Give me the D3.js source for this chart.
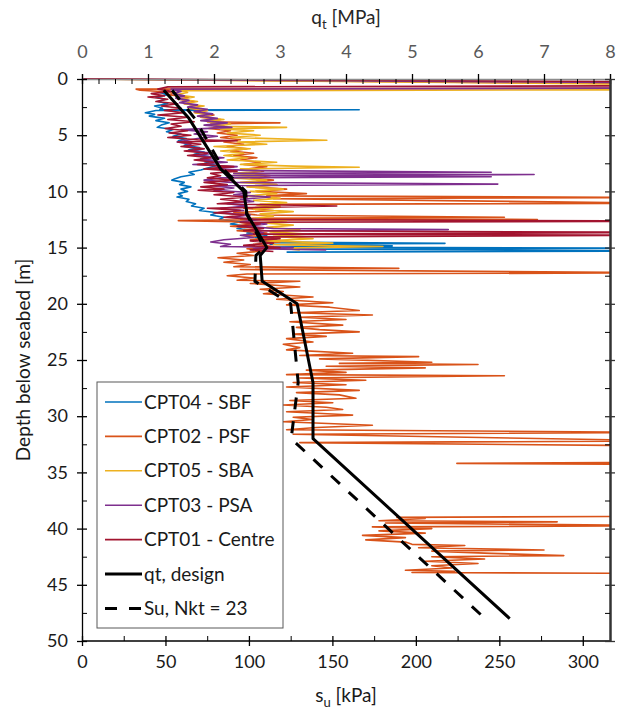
<!DOCTYPE html>
<html>
<head>
<meta charset="utf-8">
<script src="https://cdn.jsdelivr.net/npm/d3@7/dist/d3.min.js"></script>
<style>
  body { margin: 0; background: #fff; }
  text { font-family: Lato, "Open Sans", sans-serif; }
</style>
</head>
<body>
<div id="chart"></div>
<script>
// tick values
const qtTicks = [0, 1, 2, 3, 4, 5, 6, 7, 8];
const suTicks = [0, 50, 100, 150, 200, 250, 300];
const depthTicks = [0, 5, 10, 15, 20, 25, 30, 35, 40, 45, 50];

// legend
const seriesNames = ["CPT04 - SBF", "CPT02 - PSF", "CPT05 - SBA", "CPT03 - PSA", "CPT01 - Centre"];
const seriesColors = ["#0072BD", "#D95319", "#EDB120", "#7E2F8E", "#A2142F"];

// CPT traces, [depth m, qt MPa] (values above 8 run off the chart)
const cpt04 = [[1.0,1.32],[1.2,1.18],[1.4,1.30],[1.6,1.12],[1.8,1.26],[2.0,1.15],[2.2,1.30],[2.4,1.10],[2.6,1.22],[2.72,1.18],[2.74,4.2],[2.8,1.12],[3.0,0.96],[3.15,1.10],[3.3,1.02],[3.5,1.25],[3.7,1.12],[3.9,1.32],[4.1,1.20],[4.3,1.14],[4.5,1.38],[4.7,1.28],[4.9,1.50],[5.1,1.38],[5.3,1.58],[5.5,1.46],[5.7,1.66],[5.9,1.55],[6.1,1.78],[6.3,1.62],[6.5,1.85],[6.7,1.70],[6.9,1.92],[7.1,1.80],[7.3,1.98],[7.5,1.86],[7.7,2.05],[7.9,1.92],[8.1,1.80],[8.3,1.62],[8.5,1.70],[8.7,1.50],[8.9,1.40],[9.0,1.36],[9.2,1.55],[9.4,1.48],[9.6,1.65],[9.8,1.50],[10.0,1.60],[10.2,1.46],[10.4,1.52],[10.5,1.44],[10.7,1.62],[10.9,1.58],[11.1,1.72],[11.3,1.66],[11.5,1.85],[11.7,1.78],[11.9,2.05],[12.1,1.95],[12.3,2.15],[12.5,2.08],[12.7,2.40],[12.9,2.25],[13.1,2.50],[13.3,2.35],[13.5,2.65],[13.7,2.50],[13.9,2.80],[14.1,2.62],[14.3,2.95],[14.5,2.75],[14.62,5.5],[14.7,2.85],[14.85,4.7],[14.95,2.9],[15.05,9],[15.12,3.0],[15.3,9],[15.4,3.1]];

const cpt02 = [[0,0.02],[0.45,9],[0.8,9],[0.9,0.82],[1.0,0.88],[1.2,1.45],[1.4,1.30],[1.6,1.62],[1.8,1.45],[2.0,1.70],[2.2,1.55],[2.4,1.80],[2.6,1.62],[2.8,1.90],[3.0,1.72],[3.2,2.00],[3.4,1.80],[3.6,2.10],[3.8,1.90],[3.9,3.0],[4.0,1.95],[4.2,2.15],[4.4,1.92],[4.6,2.25],[4.8,2.05],[5.0,2.35],[5.2,2.10],[5.4,2.40],[5.6,2.15],[5.8,2.45],[6.0,2.20],[6.2,2.50],[6.4,2.25],[6.6,2.60],[6.8,2.30],[7.0,2.65],[7.2,2.40],[7.4,2.70],[7.6,2.45],[7.8,2.80],[8.0,2.50],[8.2,2.75],[8.4,2.45],[8.6,2.85],[8.8,2.55],[9.0,2.90],[9.2,2.60],[9.4,2.95],[9.6,2.55],[9.8,3.10],[10.0,2.65],[10.2,3.40],[10.4,2.80],[10.55,9],[10.65,2.9],[11.05,9],[11.15,2.7],[11.3,3.0],[11.5,2.45],[11.7,2.90],[11.9,2.30],[12.1,2.65],[12.3,6.4],[12.4,2.4],[12.5,6.9],[12.55,2.2],[12.6,1.46],[12.7,2.3],[12.9,2.60],[13.1,2.25],[13.3,2.70],[13.5,2.35],[13.7,2.80],[13.9,2.45],[14.1,2.90],[14.3,2.55],[14.5,3.0],[14.7,2.60],[14.9,2.90],[15.1,2.50],[15.3,2.75],[15.5,2.35],[15.7,2.60],[15.9,2.06],[16.1,2.45],[16.3,2.15],[16.5,2.55],[16.7,2.30],[16.85,4.8],[16.95,2.4],[17.25,9],[17.35,2.5],[17.5,2.20],[17.7,2.60],[17.9,2.35],[18.0,3.3],[18.2,2.55],[18.5,3.3],[18.7,2.70],[18.9,3.05],[19.1,2.75],[19.4,3.50],[19.6,2.95],[19.9,3.80],[20.1,3.10],[20.3,3.75],[20.6,4.20],[20.8,3.20],[21.0,4.40],[21.2,3.30],[21.4,4.00],[21.6,3.15],[21.9,3.95],[22.1,3.25],[22.3,3.60],[22.5,4.20],[22.7,3.20],[22.9,3.70],[23.1,3.10],[23.4,3.50],[23.6,3.05],[23.9,3.30],[24.1,3.10],[24.4,4.10],[24.6,3.30],[24.7,5.10],[24.9,3.60],[25.2,5.30],[25.3,3.90],[25.4,6.0],[25.55,3.70],[25.7,5.20],[25.9,3.40],[26.1,4.00],[26.3,3.10],[26.4,6.40],[26.6,3.30],[26.8,4.30],[27.0,3.20],[27.2,4.00],[27.4,3.10],[27.7,4.20],[27.9,3.25],[28.1,3.90],[28.4,4.15],[28.6,3.15],[28.8,3.80],[29.0,3.05],[29.2,3.70],[29.4,3.95],[29.6,3.10],[29.9,4.10],[30.1,3.20],[30.3,3.50],[30.5,3.05],[30.8,4.40],[31.0,3.55],[31.2,3.10],[31.45,9],[31.6,3.20],[32.2,9],[32.35,3.3],[32.65,9],[34.1,9],[34.2,5.68],[34.3,9],[38.9,9],[39.0,4.77],[39.1,5.2],[39.3,4.5],[39.4,7.2],[39.5,4.6],[39.75,9],[39.85,4.4],[40.0,5.3],[40.2,4.5],[40.4,5.2],[40.6,4.25],[40.8,4.9],[41.0,4.3],[41.2,4.9],[41.4,5.0],[41.5,5.8],[41.7,5.1],[41.9,7.0],[42.0,5.3],[42.2,6.2],[42.4,7.3],[42.5,5.3],[42.7,6.1],[42.9,5.2],[43.1,6.0],[43.3,5.3],[43.5,5.6],[43.7,4.9],[43.8,5.65],[43.9,5.0],[44.0,9]];

const cpt05 = [[0,0.02],[0.5,9],[0.95,9],[1.05,1.45],[1.2,1.60],[1.4,1.42],[1.6,1.70],[1.8,1.50],[2.0,1.75],[2.2,1.55],[2.4,1.85],[2.6,1.62],[2.8,1.90],[3.0,1.70],[3.2,1.95],[3.4,1.80],[3.6,2.15],[3.8,1.90],[4.0,2.25],[4.2,2.00],[4.3,3.1],[4.45,2.10],[4.6,2.60],[4.8,2.20],[5.0,2.70],[5.2,2.25],[5.45,3.71],[5.6,2.35],[5.8,2.80],[6.0,2.00],[6.2,2.55],[6.4,2.10],[6.6,2.45],[6.8,2.15],[7.0,2.50],[7.2,2.20],[7.4,2.95],[7.6,2.40],[7.75,3.20],[7.85,4.2],[8.0,2.40],[8.2,2.70],[8.4,2.30],[8.6,2.75],[8.8,2.28],[9.0,2.80],[9.2,2.40],[9.4,2.95],[9.6,2.50],[9.8,3.05],[10.0,2.55],[10.2,2.95],[10.4,2.50],[10.6,3.00],[10.8,2.60],[11.0,3.10],[11.2,2.65],[11.4,3.00],[11.6,2.60],[11.8,3.20],[12.0,2.70],[12.2,2.90],[12.4,2.60],[12.6,3.10],[12.8,2.75],[13.0,3.20],[13.2,2.80],[13.4,3.30],[13.6,2.85],[13.8,3.40],[14.0,2.90],[14.2,3.50],[14.4,2.80],[14.6,3.80],[14.75,2.9],[14.9,4.56],[15.05,3.0],[15.2,3.30]];

const cpt03 = [[0,0.02],[0.35,9],[0.8,9],[0.9,1.35],[1.1,1.50],[1.3,1.38],[1.5,1.55],[1.7,1.42],[1.9,1.62],[2.1,1.48],[2.3,1.75],[2.5,1.60],[2.7,1.90],[2.9,1.70],[3.1,1.98],[3.3,1.75],[3.5,2.05],[3.7,1.80],[3.9,2.20],[4.1,1.85],[4.3,2.27],[4.5,1.50],[4.7,1.90],[4.9,1.70],[5.1,2.05],[5.3,1.75],[5.6,1.44],[5.8,1.65],[6.0,1.55],[6.2,1.85],[6.4,1.65],[6.6,2.00],[6.8,1.72],[7.0,2.15],[7.2,1.80],[7.4,2.20],[7.6,1.68],[7.8,2.35],[8.0,1.95],[8.15,2.6],[8.3,6.2],[8.4,2.3],[8.5,6.85],[8.6,2.2],[8.7,6.2],[8.8,2.1],[9.0,1.85],[9.2,2.25],[9.35,6.3],[9.5,1.95],[9.7,2.30],[9.9,2.00],[10.1,2.55],[10.3,2.30],[10.5,2.85],[10.7,2.40],[10.9,2.60],[11.1,2.20],[11.3,2.50],[11.5,2.10],[11.7,2.45],[11.9,2.05],[12.1,2.55],[12.3,2.25],[12.5,2.70],[12.7,2.40],[12.9,2.80],[13.1,2.50],[13.3,2.90],[13.4,5.55],[13.5,2.6],[13.7,2.75],[13.9,2.40],[14.1,2.60],[14.3,2.15],[14.5,1.95],[14.7,2.25],[14.9,2.10],[15.0,3.20],[15.1,2.60],[15.2,3.70]];

const cpt01 = [[0,0.02],[0.25,9],[0.6,9],[0.7,1.3],[0.9,1.15],[1.1,1.35],[1.3,1.05],[1.5,1.25],[1.6,1.00],[1.8,1.30],[2.0,1.12],[2.2,1.45],[2.4,1.20],[2.6,1.50],[2.8,1.25],[3.0,1.55],[3.2,1.15],[3.4,1.60],[3.6,1.30],[3.8,1.70],[4.0,1.35],[4.2,1.50],[4.4,1.26],[4.6,1.60],[4.8,1.32],[5.0,1.65],[5.2,1.30],[5.4,1.75],[5.5,2.35],[5.6,1.45],[5.8,1.80],[6.0,1.50],[6.2,1.85],[6.4,1.55],[6.6,1.90],[6.8,1.60],[7.0,1.95],[7.2,1.70],[7.4,2.00],[7.6,1.75],[7.8,2.30],[8.0,1.85],[8.2,2.35],[8.4,1.95],[8.6,2.10],[8.8,1.90],[9.0,2.30],[9.2,1.85],[9.4,2.20],[9.6,1.80],[9.8,2.15],[9.9,1.76],[10.1,2.30],[10.3,2.00],[10.5,2.50],[10.7,2.10],[10.9,2.45],[11.1,2.05],[11.3,3.86],[11.5,1.90],[11.7,2.40],[11.9,2.00],[12.1,2.45],[12.3,2.15],[12.5,2.60],[12.65,9],[12.75,2.40],[12.9,2.70],[13.1,2.35],[13.3,2.75],[13.5,2.45],[13.65,9],[13.8,2.6],[13.9,9],[14.05,2.7],[14.2,3.0],[14.4,2.55],[14.6,2.90],[14.8,2.45],[15.0,3.00],[15.2,2.55],[15.35,2.9]];

// design lines
const designDepth = [1, 3.5, 8, 10, 12, 15, 15.7, 18, 20, 27, 32, 48];
const designQt = [1.24, 1.62, 2.1, 2.45, 2.5, 2.8, 2.7, 2.73, 3.26, 3.5, 3.5, 6.48];
const suDepth = [1, 3.5, 8, 10, 12, 15, 15.7, 18, 20, 27, 32, 48];
const suKpa = [54, 67.5, 84.6, 98.1, 98.6, 109.1, 104.2, 103.6, 125, 129.5, 125.3, 241.4];

const traces = [cpt04, cpt02, cpt05, cpt03, cpt01];

const width = 628, height = 715;
const plotLeft = 82, plotRight = 610, plotTop = 79, plotBottom = 641;

const svg = d3.select("#chart")
    .append("svg")
    .attr("width", width)
    .attr("height", height);

const x = d3.scaleLinear().domain([0, 8]).range([plotLeft, plotRight]);
const xSu = d3.scaleLinear().domain([0, 316.3]).range([plotLeft, plotRight]);
const y = d3.scaleLinear().domain([0, 50]).range([plotTop, plotBottom]);

svg.append("clipPath").attr("id", "plotclip")
    .append("rect")
    .attr("x", plotLeft).attr("y", plotTop - 1)
    .attr("width", plotRight - plotLeft).attr("height", plotBottom - plotTop + 1);

const plot = svg.append("g").attr("clip-path", "url(#plotclip)");

const line = d3.line().x(d => x(d[1])).y(d => y(d[0]));

plot.selectAll(".cpt")
    .data(traces)
    .enter()
    .append("path")
    .attr("class", "cpt")
    .attr("d", d => line(d))
    .attr("fill", "none")
    .attr("stroke", (d, i) => seriesColors[i])
    .attr("stroke-width", 1.6)
    .attr("stroke-linejoin", "round");

plot.append("path")
    .attr("d", d3.line().x(d => xSu(d[1])).y(d => y(d[0]))(suDepth.map((d, i) => [d, suKpa[i]])))
    .attr("fill", "none")
    .attr("stroke", "#000")
    .attr("stroke-width", 3)
    .attr("stroke-dasharray", "12,12");

plot.append("path")
    .attr("d", line(designDepth.map((d, i) => [d, designQt[i]])))
    .attr("fill", "none")
    .attr("stroke", "#000")
    .attr("stroke-width", 3)
    .attr("stroke-linejoin", "round");

// axes
function minor(lo, hi, step) {
    const out = [];
    for (let v = lo; v <= hi + 1e-9; v += step) out.push(+v.toFixed(3));
    return out;
}

// top qt axis
const topAxis = svg.append("g").attr("transform", `translate(0,${plotTop})`)
    .call(d3.axisTop(x).tickValues(qtTicks).tickSize(5).tickPadding(16));
topAxis.select(".domain").attr("stroke", "#8c8c8c").attr("stroke-width", 1.3);
topAxis.selectAll(".tick line").attr("y1", 5).attr("stroke-width", 1.3);
topAxis.selectAll("text").style("font-size", "18px").attr("fill", "#595959").style("font-family", "Lato");
svg.append("g").attr("transform", `translate(0,${plotTop})`)
    .call(d3.axisTop(x).tickValues(minor(0, 8, 0.25)).tickSize(-5).tickFormat(""))
    .call(g => g.select(".domain").remove());

// bottom su axis
const botAxis = svg.append("g").attr("transform", `translate(0,${plotBottom})`)
    .call(d3.axisBottom(xSu).tickValues(suTicks).tickSize(5).tickPadding(9).tickSizeOuter(0));
botAxis.select(".domain").attr("stroke-width", 1.3).attr("d", `M${plotLeft},0H${plotRight}`);
botAxis.selectAll(".tick line").attr("y1", -5).attr("stroke-width", 1.3);
botAxis.selectAll("text").style("font-size", "18px").attr("fill", "#1a1a1a").style("font-family", "Lato");
svg.append("g").attr("transform", `translate(0,${plotBottom})`)
    .call(d3.axisBottom(xSu).tickValues(minor(25, 300, 50)).tickSize(-5).tickFormat(""))
    .call(g => g.select(".domain").remove());

// left depth axis
const leftAxis = svg.append("g").attr("transform", `translate(${plotLeft},0)`)
    .call(d3.axisLeft(y).tickValues(depthTicks).tickSize(5).tickPadding(9).tickSizeOuter(0));
leftAxis.select(".domain").attr("stroke-width", 1.3);
leftAxis.selectAll(".tick line").attr("x1", 5).attr("stroke-width", 1.3);
leftAxis.selectAll("text").style("font-size", "18px").attr("fill", "#1a1a1a").style("font-family", "Lato");
svg.append("g").attr("transform", `translate(${plotLeft},0)`)
    .call(d3.axisLeft(y).tickValues(minor(2.5, 47.5, 5)).tickSize(-5).tickFormat(""))
    .call(g => g.select(".domain").remove());

// right edge
const rightAxis = svg.append("g").attr("transform", `translate(${plotRight},0)`)
    .call(d3.axisRight(y).tickValues(depthTicks).tickSize(5).tickFormat("").tickSizeOuter(0));
rightAxis.select(".domain").attr("stroke", "#333").attr("stroke-width", 2.5);
rightAxis.selectAll(".tick line").attr("x1", -5).attr("stroke", "#333").attr("stroke-width", 1.3);
svg.append("g").attr("transform", `translate(${plotRight},0)`)
    .call(d3.axisRight(y).tickValues(minor(2.5, 47.5, 5)).tickSize(-5).tickFormat(""))
    .call(g => g.select(".domain").remove());

// axis titles
const tTop = svg.append("text")
    .attr("x", (plotLeft + plotRight) / 2).attr("y", 24)
    .attr("text-anchor", "middle")
    .style("font-size", "19px").attr("fill", "#262626");
tTop.append("tspan").text("q");
tTop.append("tspan").attr("dy", 5).style("font-size", "13px").text("t");
tTop.append("tspan").attr("dy", -5).text(" [MPa]");

const tBot = svg.append("text")
    .attr("x", (plotLeft + plotRight) / 2).attr("y", 702)
    .attr("text-anchor", "middle")
    .style("font-size", "19px").attr("fill", "#1a1a1a");
tBot.append("tspan").text("s");
tBot.append("tspan").attr("dy", 5).style("font-size", "13px").text("u");
tBot.append("tspan").attr("dy", -5).text(" [kPa]");

svg.append("text")
    .attr("transform", `translate(30,${(plotTop + plotBottom) / 2}) rotate(-90)`)
    .attr("text-anchor", "middle")
    .style("font-size", "19px").attr("fill", "#1a1a1a")
    .text("Depth below seabed [m]");

// legend
const legend = svg.append("g");
legend.append("rect")
    .attr("x", 97).attr("y", 382)
    .attr("width", 186).attr("height", 246)
    .attr("fill", "#fff").attr("stroke", "#595959").attr("stroke-width", 1);

const legendItems = seriesNames.map((n, i) => ({ name: n, color: seriesColors[i], w: 1.6, dash: null }))
    .concat([{ name: "qt, design", color: "#000", w: 3, dash: null },
             { name: "Su, Nkt = 23", color: "#000", w: 3, dash: "12,12" }]);

const rows = legend.selectAll(".row")
    .data(legendItems)
    .enter()
    .append("g")
    .attr("transform", (d, i) => `translate(0,${402 + i * 34.4})`);

rows.append("line")
    .attr("x1", 105).attr("x2", 142)
    .attr("stroke", d => d.color)
    .attr("stroke-width", d => d.w)
    .attr("stroke-dasharray", d => d.dash);

rows.append("text")
    .attr("x", 144).attr("y", 6.5)
    .style("font-size", "19px")
    .attr("fill", "#1a1a1a")
    .text(d => d.name);
</script>
</body>
</html>
